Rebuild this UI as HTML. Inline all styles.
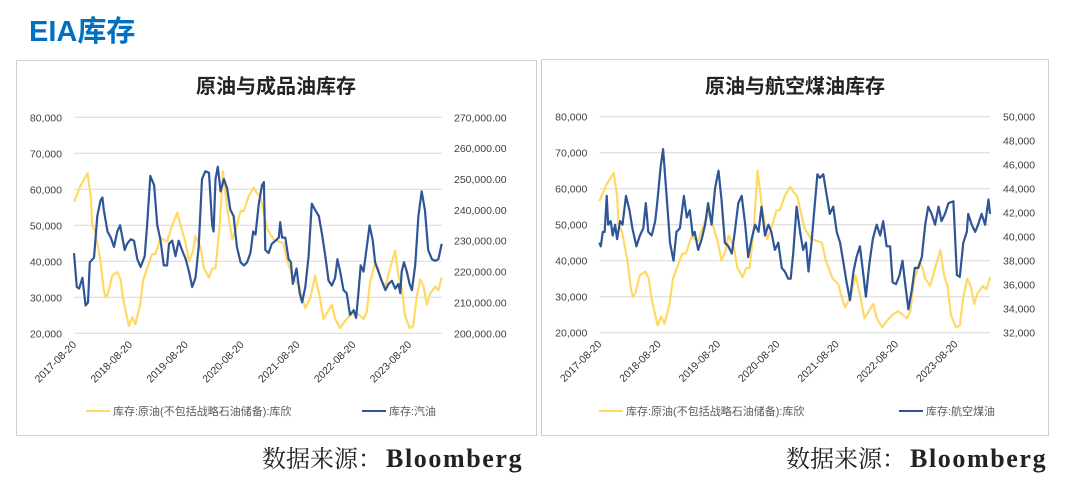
<!DOCTYPE html>
<html><head><meta charset="utf-8">
<style>
body{margin:0;background:#fff;width:1080px;height:489px;overflow:hidden;font-family:"Liberation Sans","Noto Sans CJK SC",sans-serif}
</style></head>
<body>
<svg id="s" width="1080" height="489" xmlns="http://www.w3.org/2000/svg">
<text x="29" y="41" font-size="29" font-weight="bold" fill="#0070C0" font-family="Liberation Sans,Noto Sans CJK SC,sans-serif">EIA库存</text>
<rect x="16.5" y="60.5" width="520" height="375" fill="#fff" stroke="#d0d0d0"/>
<rect x="541.5" y="59.5" width="507" height="376" fill="#fff" stroke="#d0d0d0"/>
<text x="276" y="93" font-size="20" font-weight="bold" text-anchor="middle" fill="#222" font-family="Liberation Sans,Noto Sans CJK SC,sans-serif">原油与成品油库存</text>
<text x="795" y="93" font-size="20" font-weight="bold" text-anchor="middle" fill="#222" font-family="Liberation Sans,Noto Sans CJK SC,sans-serif">原油与航空煤油库存</text>
<g id="L"></g><g id="R"></g>
<text x="262" y="467" font-size="24" fill="#222" font-family="Liberation Serif,Noto Serif CJK SC,serif">数据来源：<tspan x="386" font-size="26" letter-spacing="1.6" font-weight="bold">Bloomberg</tspan></text>
<text x="786" y="467" font-size="24" fill="#222" font-family="Liberation Serif,Noto Serif CJK SC,serif">数据来源：<tspan x="910" font-size="26" letter-spacing="1.6" font-weight="bold">Bloomberg</tspan></text>
</svg>
<script>
const leftTicks=["20,000","30,000","40,000","50,000","60,000","70,000","80,000"];
const gasTicks=["200,000.00","210,000.00","220,000.00","230,000.00","240,000.00","250,000.00","260,000.00","270,000.00"];
const jetTicks=["32,000","34,000","36,000","38,000","40,000","42,000","44,000","46,000","48,000","50,000"];
const xLabels=["2017-08-20","2018-08-20","2019-08-20","2020-08-20","2021-08-20","2022-08-20","2023-08-20"];
const crudeM=[0,1.4,2.5,2.9,3.6,3.9,4.6,5.7,6.4,6.8,7.3,8.2,9.3,10,10.5,11.3,11.8,12.5,13.2,14.2,14.9,15.7,16.8,17.5,18.6,20,21.1,22.2,22.9,24,24.7,25.6,26.1,27.2,27.9,29,29.7,30.4,31.3,32,32.9,34,35,35.8,36.5,37.5,38.6,39.3,40,41.5,42.9,44,45,45.8,47.2,48.3,49,49.7,50.8,51.8,52.8,53.6,54.3,55.4,56.1,57.2,58.3,59.3,60.4,61.3,62.2,62.9,63.6,64.7,65.4,65.9,66.9,67.9,69,69.7,70.4,71.1,72.1,72.9,73.6,74.4,75.1,75.8,76.5,77.6,78.3,79];
const crudeV=[56.5,61,63.5,64.5,58,50,48,40,32,30,31,36,37,35,30,25,22,24.5,22.5,28,35,38,42,42,46.5,45.5,50,53.5,50,45,40,43,47,44,38,35.5,38,38,50,65,55,46,50,54,54,58,60.5,59,58,49,46,45.5,45,40,35,33.5,30,27,30,36,30,24,25.5,28,24,21.5,23.5,25,26,25,24,26,34,39.5,38,35,33,38,43,36,33,25,21.5,22,30,35,33,28,31,33,32,35.5,33.5];
const gasM=[0,.6,1.1,1.8,2.1,2.5,3,3.4,4.3,5,5.7,6.1,6.4,7.2,7.9,8.6,9.3,9.9,10.4,10.9,11.4,12.2,12.9,13.6,14.3,15.2,15.7,16.4,17.2,17.9,18.6,19.3,20,20.4,21.1,21.8,22.5,23.2,24,24.7,25.4,26.1,26.8,27.5,28.2,29,29.7,30,30.4,30.9,31.5,32.2,32.9,33.6,34.3,35,35.8,36.5,37.2,37.9,38.5,39,39.7,40.4,40.8,41.1,41.8,42.5,43.3,44,44.3,44.7,45.4,46.1,46.6,47,47.8,48.5,49,49.7,50.4,51.1,51.8,52.6,53.3,54,54.7,55.4,56.1,56.6,57.2,57.9,58.6,59.3,60.1,60.6,61.1,61.6,62.2,62.9,63.5,64.2,64.7,65.4,66.1,66.9,67.6,68.3,69,69.7,70.1,70.4,70.9,71.5,72.1,72.6,73.3,74,74.7,75.4,76.1,76.9,77.6,78.3,79];
const gasV=[226,215,214.5,218,214,209,210,223,224.5,238,243,244,240,233,231,228,233,235,231,227,229,230.5,230,224,221.5,225,235,251,248,235,230,222,222,229,230,225,230,227,224,220,215,218,228,250,252.5,252,235,233,250,254,246,250,247,240,238,228,223,222,223,226,233,232,242,248,249,227,226,229,230,231,236,231,231,224,223,216,221,213,210,215,225,242,240,238,232,225,217,215.5,218,224,220,214,213,206,207.5,205,213,222,220,228,235,230,223,220,217,214,216,217,214.5,216,213,220,223,220,216,214,222,238,246,240,227,224,223.5,224,229];
const jetM=[0,.3,.7,1.1,1.5,1.8,2.3,2.7,3.2,3.6,4.2,4.7,5.4,6.1,6.7,7.5,8.2,8.9,9.4,9.9,10.6,11.3,11.7,12.4,12.9,13.6,14.3,15,15.6,16.3,17.1,17.7,18.3,18.9,19.3,20,20.7,21.4,22,22.7,23.4,24.1,24.7,25.4,26.1,26.8,27.4,28.1,28.8,29.5,30.1,30.8,31.5,32.2,32.8,33.5,34.2,34.8,35.5,36.2,36.9,37.5,38.2,38.7,39.2,39.9,40.6,41.2,41.8,42.3,42.9,43.6,44.1,44.6,45.3,46,46.6,47.3,48,48.7,49.3,50,50.7,51.4,52,52.7,53.4,53.9,54.6,55.3,56.1,56.8,57.4,58.1,58.8,59.3,60,60.7,61.3,62,62.5,63.2,63.8,64.5,65.2,65.9,66.5,67.2,67.9,68.6,69.2,69.9,70.6,71.6,72.3,72.9,73.6,74.3,74.6,75.3,76,76.6,77.3,78,78.7,79];
const jetV=[39.5,39.2,40.4,40.4,43.4,41,41.3,40.1,41,39.8,41.3,41,43.4,42.2,40.7,39.2,40.1,40.7,42.8,40.4,40.1,41.3,42.8,45.8,47.3,43.4,39.5,38,40.4,40.7,43.4,41.6,42.2,40.1,40.4,38.9,39.8,41,42.8,41,44,45.5,43.1,39.5,39.2,38.6,40.4,42.8,43.4,41,38.3,39.8,41,40.4,42.5,40.1,41,40.4,38.9,39.5,37.4,37.1,36.5,36.5,38.6,42.5,40.4,38.9,39.5,37.1,39.5,42.8,45.2,44.9,45.2,43.4,41.9,42.5,40.4,39.5,38,36.2,34.7,37.1,38.3,39.2,36.8,35,37.7,39.8,41,40.1,41.3,39.2,39.2,36.2,36.05,36.8,38,35.6,33.95,35.6,37.4,37.4,38.3,41,42.5,41.9,41,42.5,41.3,41.9,42.8,42.95,36.8,36.65,39.5,40.4,41.9,41,40.4,41,41.9,41,43.1,41.9];
const NS="http://www.w3.org/2000/svg";
function mk(p,tag,a,txt){const e=document.createElementNS(NS,tag);for(const k in a)e.setAttribute(k,a[k]);if(txt!=null)e.textContent=txt;p.appendChild(e);return e;}
function chart(g,cfg){
  const x=m=>cfg.x0+m/cfg.mMax*(cfg.x1-cfg.x0);
  const yL=v=>cfg.y1-(v-20)/60*(cfg.y1-cfg.y0);
  const yR=v=>cfg.y1-(v-cfg.rMin)/(cfg.rMax-cfg.rMin)*(cfg.y1-cfg.y0);
  leftTicks.forEach((t,i)=>{const v=20+i*10;const yy=yL(v);
    const gl=mk(g,'line',{x1:cfg.x0,x2:cfg.x1,y1:yy,y2:yy,stroke:'#d9d9d9','stroke-width':1});
    
    
    const tl=mk(g,'text',{x:cfg.x0-12,y:yy+4,'font-size':10.5,'text-anchor':'end',fill:'#404040'},t);
    
    
  });
  cfg.rTicks.forEach((t,i)=>{const v=cfg.rMin+i*cfg.rStep;
    const tl=mk(g,'text',{x:cfg.rx,y:yR(v)+4,'font-size':10.5,fill:'#404040'},t);
    
    
  });
  xLabels.forEach((t,i)=>{const xx=x(i*12);
    const tl=mk(g,'text',{x:0,y:0,'font-size':10.5,'text-anchor':'end',fill:'#333',transform:`translate(${xx+3},${cfg.y1+12}) rotate(-45)`},t);
    
    
  });
  const pc=mk(g,'polyline',{points:crudeM.map((m,i)=>x(m).toFixed(1)+','+yL(crudeV[i]).toFixed(1)).join(' '),fill:'none',stroke:'#FFD966','stroke-width':2.2,'stroke-linejoin':'round'});
  
  
  const pb=mk(g,'polyline',{points:cfg.m.map((m,i)=>x(m).toFixed(1)+','+yR(cfg.v[i]).toFixed(1)).join(' '),fill:'none',stroke:'#2F5597','stroke-width':2.2,'stroke-linejoin':'round'});
  
  
  const ly=411;
  const l1=mk(g,'line',{x1:cfg.lg1,x2:cfg.lg1+24,y1:ly,y2:ly,stroke:'#FFD966','stroke-width':2});
  
  
  const t1=mk(g,'text',{x:cfg.lg1+27,y:ly+4,'font-size':11,fill:'#595959'},'库存:原油(不包括战略石油储备):库欣');
  
  
  const l2=mk(g,'line',{x1:cfg.lg2,x2:cfg.lg2+24,y1:ly,y2:ly,stroke:'#2F5597','stroke-width':2});
  
  
  const t2=mk(g,'text',{x:cfg.lg2+27,y:ly+4,'font-size':11,fill:'#595959'},cfg.legend);
  
  
}
chart(document.getElementById('L'),{x0:74,x1:441.7,y0:117.3,y1:333.3,mMax:79,rMin:200,rMax:270,rStep:10,rTicks:gasTicks,rx:454,m:gasM,v:gasV,name:'gasoline',legend:'库存:汽油',lg1:86,lg2:362});
chart(document.getElementById('R'),{x0:599.3,x1:990,y0:116.7,y1:332.7,mMax:79,rMin:32,rMax:50,rStep:2,rTicks:jetTicks,rx:1003,m:jetM,v:jetV,name:'jet-fuel',legend:'库存:航空煤油',lg1:599,lg2:899});
document.getElementById('L');
document.getElementById('L');
document.getElementById('R');
document.getElementById('R');
</script>
</body></html>
